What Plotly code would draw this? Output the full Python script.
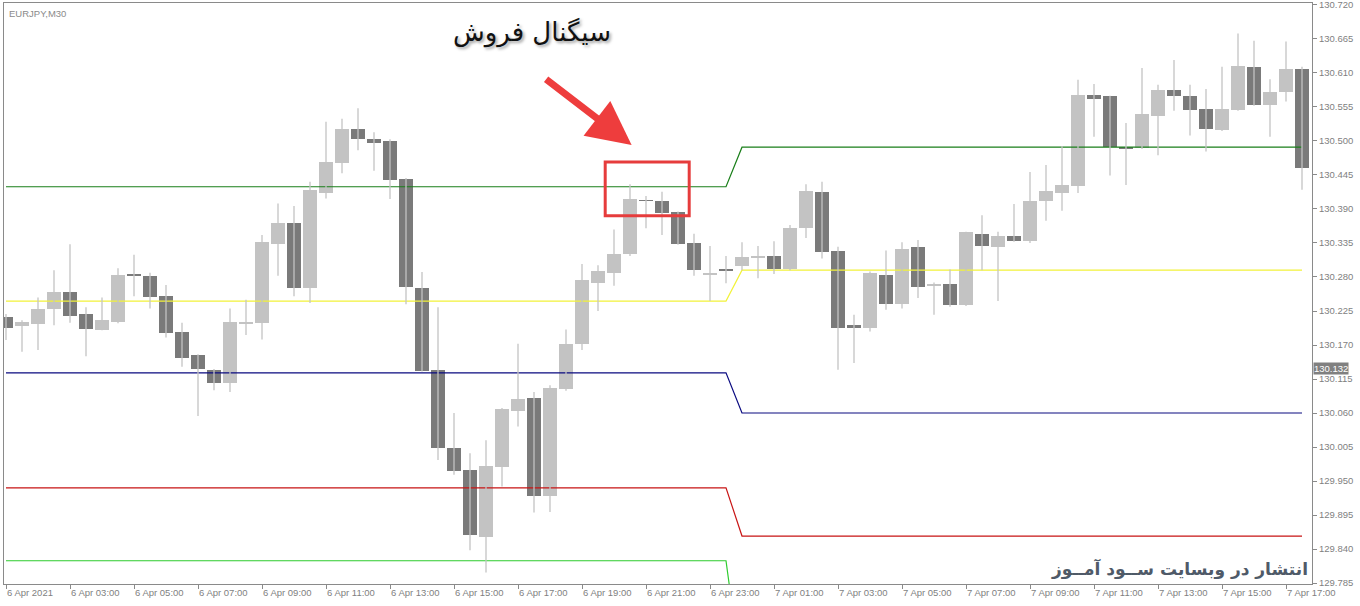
import plotly.graph_objects as go

# ---------------- data (EURJPY M30, 6 Apr 2021 01:00 -> 7 Apr 2021 17:30) ----------------
opens = [130.216, 130.200, 130.204, 130.228, 130.255, 130.220, 130.195, 130.208, 130.284, 130.282,
         130.249, 130.191, 130.154, 130.130, 130.109, 130.205, 130.206, 130.333, 130.367, 130.263,
         130.416, 130.465, 130.519, 130.504, 130.500, 130.439, 130.262, 130.130, 130.004, 129.968,
         129.860, 129.972, 130.064, 130.085, 129.925, 130.099, 130.172, 130.271, 130.287, 130.317,
         130.404, 130.403, 130.385, 130.335, 130.284, 130.293, 130.297, 130.312, 130.314, 130.293,
         130.360, 130.417, 130.322, 130.202, 130.197, 130.284, 130.237, 130.328, 130.267, 130.269,
         130.235, 130.350, 130.329, 130.346, 130.338, 130.403, 130.416, 130.428, 130.574, 130.572,
         130.490, 130.488, 130.541, 130.583, 130.573, 130.552, 130.518, 130.550, 130.620, 130.558,
         130.580, 130.616]
highs = [130.220, 130.210, 130.247, 130.291, 130.333, 130.231, 130.247, 130.294, 130.316, 130.287,
         130.267, 130.206, 130.155, 130.131, 130.229, 130.243, 130.348, 130.399, 130.395, 130.434,
         130.531, 130.536, 130.553, 130.514, 130.503, 130.440, 130.288, 130.231, 130.060, 129.995,
         130.016, 130.068, 130.172, 130.094, 130.105, 130.195, 130.301, 130.299, 130.357, 130.430,
         130.411, 130.418, 130.386, 130.350, 130.330, 130.314, 130.336, 130.330, 130.338, 130.364,
         130.430, 130.434, 130.329, 130.219, 130.289, 130.323, 130.336, 130.340, 130.271, 130.292,
         130.353, 130.380, 130.353, 130.398, 130.450, 130.461, 130.492, 130.599, 130.592, 130.573,
         130.529, 130.618, 130.591, 130.631, 130.591, 130.584, 130.620, 130.674, 130.662, 130.600,
         130.661, 130.620]
lows = [130.178, 130.159, 130.162, 130.202, 130.206, 130.152, 130.194, 130.205, 130.249, 130.229,
        130.182, 130.135, 130.055, 130.097, 130.094, 130.186, 130.179, 130.282, 130.249, 130.238,
        130.407, 130.448, 130.485, 130.452, 130.406, 130.236, 130.127, 129.984, 129.960, 129.838,
        129.802, 129.941, 130.038, 129.899, 129.900, 130.096, 130.162, 130.225, 130.266, 130.314,
        130.359, 130.348, 130.332, 130.282, 130.241, 130.270, 130.291, 130.278, 130.285, 130.291,
        130.343, 130.310, 130.130, 130.141, 130.192, 130.227, 130.229, 130.246, 130.219, 130.232,
        130.233, 130.291, 130.241, 130.337, 130.335, 130.371, 130.387, 130.416, 130.507, 130.444,
        130.429, 130.487, 130.477, 130.549, 130.509, 130.483, 130.516, 130.549, 130.557, 130.507,
        130.564, 130.421]
closes = [130.197, 130.208, 130.229, 130.255, 130.217, 130.196, 130.210, 130.283, 130.282, 130.247,
          130.190, 130.149, 130.131, 130.109, 130.208, 130.207, 130.336, 130.367, 130.263, 130.421,
          130.466, 130.519, 130.504, 130.497, 130.437, 130.264, 130.128, 130.004, 129.967, 129.862,
          129.974, 130.066, 130.082, 129.925, 130.101, 130.172, 130.275, 130.289, 130.318, 130.406,
          130.403, 130.384, 130.333, 130.291, 130.287, 130.291, 130.312, 130.314, 130.293, 130.360,
          130.419, 130.321, 130.198, 130.197, 130.286, 130.237, 130.325, 130.264, 130.269, 130.235,
          130.352, 130.330, 130.346, 130.338, 130.403, 130.419, 130.429, 130.574, 130.568, 130.491,
          130.488, 130.544, 130.583, 130.573, 130.550, 130.519, 130.552, 130.621, 130.558, 130.580,
          130.616, 130.457]

# daily pivot-style levels (day 1: 6 Apr, day 2: 7 Apr)
day1_bars = 46
day2_bars = 36
level_r1 = [130.426, 130.490]   # dark green
level_pp = [130.241, 130.291]   # yellow
level_s1 = [130.125, 130.060]   # navy
level_s2 = [129.939, 129.861]   # red
level_s3 = [129.821, 129.630]   # lime

x_tick_bars = list(range(0, 81, 4))
x_tick_text = ["6 Apr 2021", "6 Apr 03:00", "6 Apr 05:00", "6 Apr 07:00", "6 Apr 09:00",
               "6 Apr 11:00", "6 Apr 13:00", "6 Apr 15:00", "6 Apr 17:00", "6 Apr 19:00",
               "6 Apr 21:00", "6 Apr 23:00", "7 Apr 01:00", "7 Apr 03:00", "7 Apr 05:00",
               "7 Apr 07:00", "7 Apr 09:00", "7 Apr 11:00", "7 Apr 13:00", "7 Apr 15:00",
               "7 Apr 17:00"]
y_tick_vals = [130.720, 130.665, 130.610, 130.555, 130.500, 130.445, 130.390, 130.335, 130.280,
               130.225, 130.170, 130.115, 130.060, 130.005, 129.950, 129.895, 129.840, 129.785]
price_label = 130.132

# ---------------- figure ----------------
BULL = "#c3c3c3"
BEAR = "#7a7a7a"
WICK = "#c3c3c3"
n = len(opens)
xs = list(range(n))

fig = go.Figure()

# pivot lines
def level_series(vals):
    return [vals[0]] * day1_bars + [vals[1]] * day2_bars

for vals, col in [(level_r1, "#1a7f1a"), (level_pp, "#f2f23a"), (level_s1, "#0a0a80"),
                  (level_s2, "#c81414"), (level_s3, "#2ecc2e")]:
    fig.add_trace(go.Scatter(x=xs, y=level_series(vals), mode="lines",
                             line=dict(color=col, width=1.2), hoverinfo="skip", showlegend=False))

# wicks
wx, wy = [], []
for i in range(n):
    wx += [i, i, None]
    wy += [lows[i], highs[i], None]
fig.add_trace(go.Scatter(x=wx, y=wy, mode="lines", line=dict(color=WICK, width=1.3),
                         hoverinfo="skip", showlegend=False))

# bodies
body_base = [min(o, c) for o, c in zip(opens, closes)]
body_len = [max(abs(c - o), 0.0014) for o, c in zip(opens, closes)]
body_col = [BULL if c > o else BEAR for o, c in zip(opens, closes)]
fig.add_trace(go.Bar(x=xs, y=body_len, base=body_base, width=0.9,
                     marker=dict(color=body_col, line=dict(width=0)),
                     showlegend=False, hoverinfo="skip"))

axis_font = dict(family="Liberation Sans, Arial, sans-serif", size=9.5, color="#7f7f7f")

fig.update_layout(
    width=1360, height=606,
    margin=dict(l=4, r=48, t=3, b=22),
    paper_bgcolor="white", plot_bgcolor="white",
    bargap=0, showlegend=False,
    xaxis=dict(range=[-0.125, 81.625], tickvals=x_tick_bars, ticktext=x_tick_text,
               showgrid=False, zeroline=False, showline=True, mirror=True,
               linecolor="#8a8a8a", linewidth=1, ticks="outside", ticklen=4,
               tickcolor="#8a8a8a", tickfont=axis_font, ticklabelposition="outside right",
               ticklabeloverflow="allow", automargin=False),
    yaxis=dict(range=[129.7834, 130.7232], side="right", tickvals=y_tick_vals,
               ticktext=[f"{v:.3f}" for v in y_tick_vals],
               showgrid=False, zeroline=False, showline=True, mirror=True,
               linecolor="#8a8a8a", linewidth=1, ticks="outside", ticklen=4,
               tickcolor="#8a8a8a", tickfont=axis_font, ticklabeloverflow="allow",
               automargin=False),
)

# symbol caption
fig.add_annotation(xref="paper", yref="paper", x=0.002, y=0.995, xanchor="left", yanchor="top",
                   text="EURJPY,M30", showarrow=False,
                   font=dict(family="Liberation Sans, Arial, sans-serif", size=9.5, color="#8a8a8a"))

# current price label
fig.add_annotation(xref="paper", yref="y", x=1, y=price_label, xanchor="left", yanchor="middle",
                   xshift=1, text=f"{price_label:.3f}", showarrow=False, bgcolor="#808080",
                   borderpad=0,
                   font=dict(family="Liberation Sans, Arial, sans-serif", size=9.5, color="white"))

# sell signal title
fig.add_annotation(x=32.9, y=130.675, xref="x", yref="y", text="سیگنال فروش", showarrow=False,
                   font=dict(family="DejaVu Sans, sans-serif", size=26, color="#111111",
                             shadow="2px 2px 3px rgba(0,0,0,0.35)"))

# red arrow
fig.add_annotation(x=39.1, y=130.4935, xref="x", yref="y", ax=-87, ay=-67, text="",
                   showarrow=True, arrowhead=2, arrowsize=1.25, arrowwidth=7, arrowcolor="#ee3d3d")

# highlight box around signal candles
fig.add_shape(type="rect", xref="x", yref="y", x0=37.45, x1=42.7, y0=130.379, y1=130.466,
              line=dict(color="#e63c3c", width=3), fillcolor="rgba(0,0,0,0)")

# watermark
fig.add_annotation(xref="paper", yref="paper", x=0.9985, y=0.003, xanchor="right", yanchor="bottom",
                   text="<b>انتشار در وبسایت ســود آمــوز</b>", showarrow=False,
                   font=dict(family="DejaVu Sans, sans-serif", size=17, color="#4f5a68"))

fig.write_html("out.html", config={"displayModeBar": False},
               post_script="document.body.style.margin='0';document.body.style.overflow='hidden';")
